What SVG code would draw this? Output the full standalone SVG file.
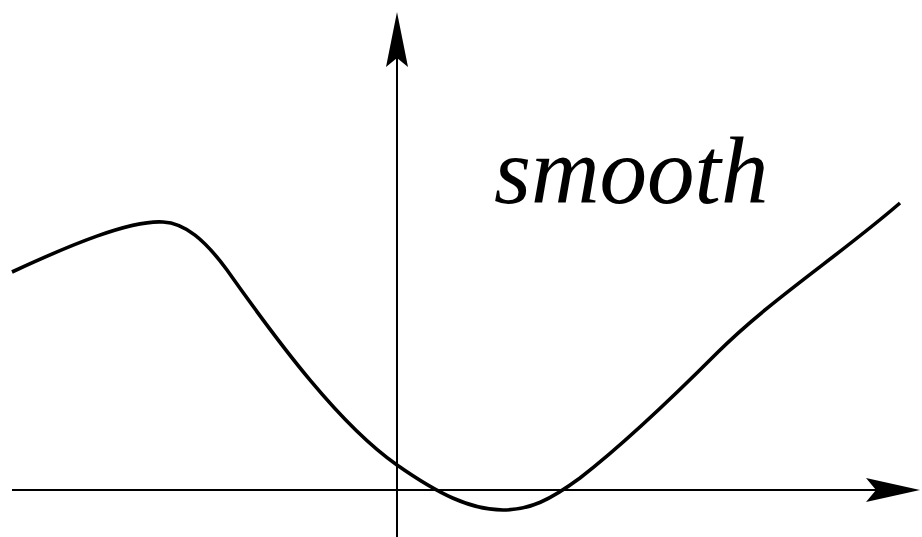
<svg xmlns="http://www.w3.org/2000/svg" width="922" height="537" viewBox="0 0 922 537">
<style>
.axis{stroke:#000;stroke-width:2;fill:none}
.curve{stroke:#000;stroke-width:3.6;fill:none;stroke-linecap:butt}
.head{fill:#000}
.lbl{font-family:"Liberation Serif","Times New Roman",serif;font-style:italic;font-size:95px;fill:#000}
</style>
<rect width="922" height="537" fill="#fff"/>
<g id="connectors">
<g id="y-axis">
<line class="axis" x1="397" y1="537" x2="397" y2="50"/>
<path class="head" d="M397,12 L408,67 L397,58 L386,67 Z"/>
</g>
<g id="x-axis">
<line class="axis" x1="12" y1="490" x2="880" y2="490"/>
<path class="head" d="M920,490 L866,478 L876,490 L866,502 Z"/>
</g>
</g>
<g id="curve">
<path class="curve" d="M12,272 C70,245 130,220 163,222 C185,223 205,240 227,270 C280,345 340,425 397,465 C437,493 470,510 503,510 C530,510 550,500 580,478 C620,447 670,400 717,353 C770,300 840,255 900,203"/>
</g>
<g id="label">
<text class="lbl" x="494" y="203">smooth</text>
</g>
</svg>
